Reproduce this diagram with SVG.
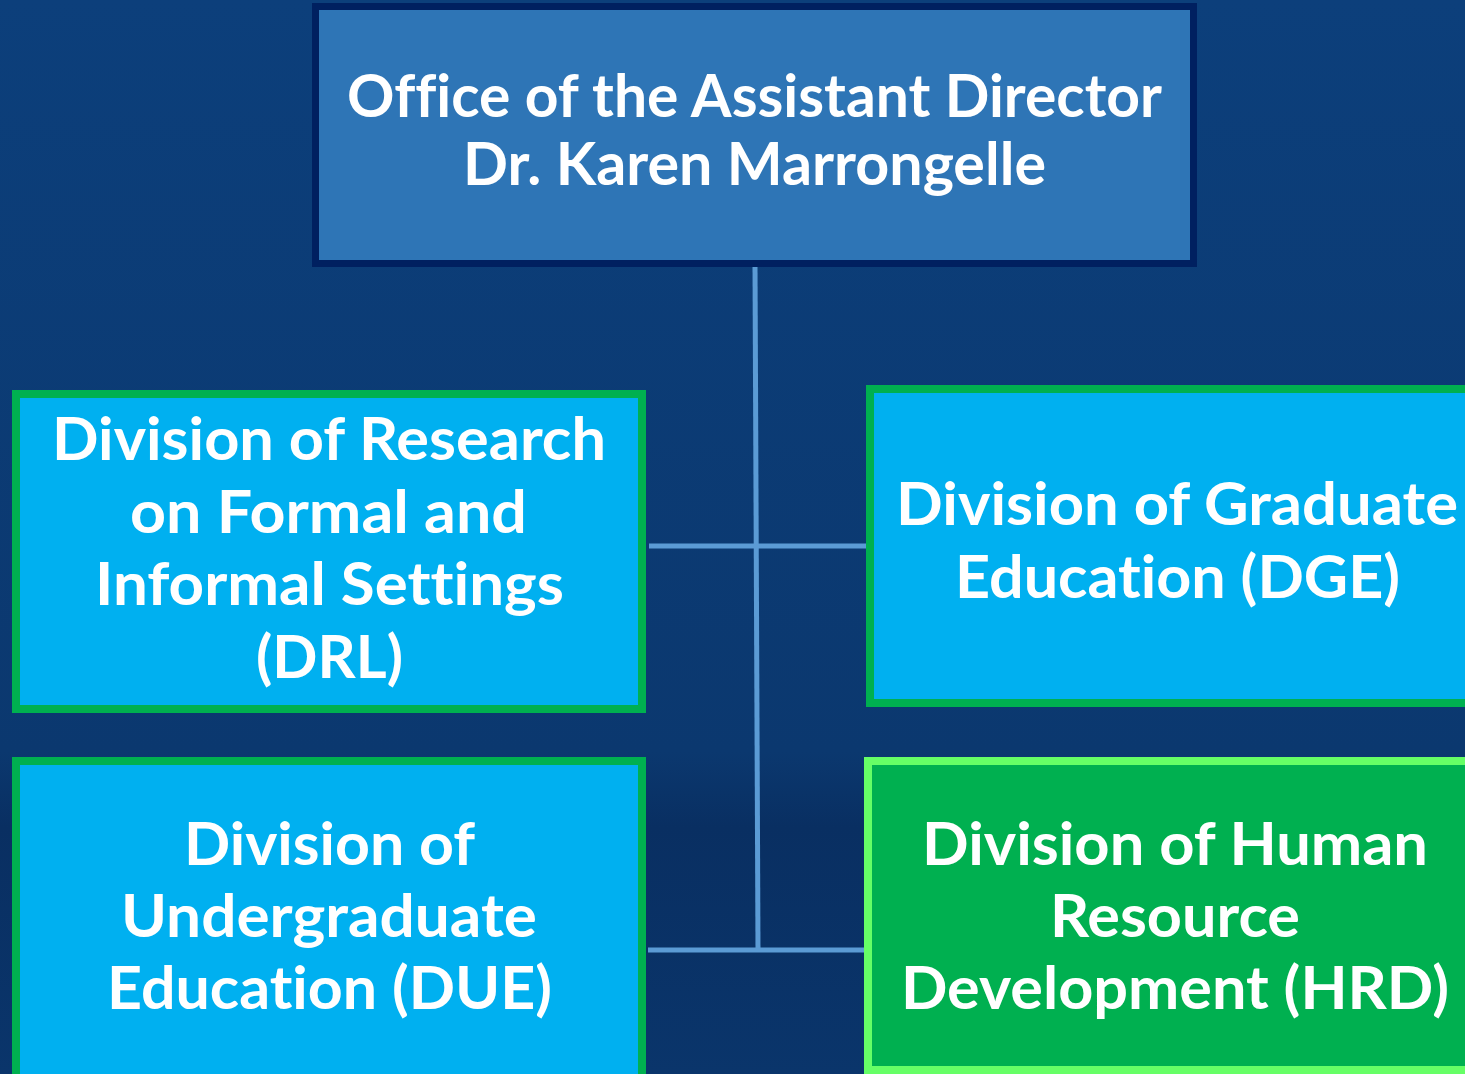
<svg xmlns="http://www.w3.org/2000/svg" width="1465" height="1074" viewBox="0 0 1465 1074">
<defs>
<linearGradient id="bg" x1="0" y1="0" x2="0" y2="1">
<stop offset="0" stop-color="#0c3f7b"/>
<stop offset="0.7" stop-color="#0b386f"/>
<stop offset="0.77" stop-color="#092f62"/>
<stop offset="1" stop-color="#0a356b"/>
</linearGradient>
<style>
.t{font-family:Lato,"Open Sans","Liberation Sans",sans-serif;font-weight:bold;font-size:59px;fill:#ffffff;text-anchor:middle;font-variant-ligatures:none}
.conn{stroke:#5b9bd5;stroke-width:5;fill:none}
.blue{fill:#00b0f0;stroke:#00b050;stroke-width:8}
</style>
</defs>
<rect x="0" y="0" width="1465" height="1074" fill="url(#bg)"/>
<g id="connectors">
<line class="conn" x1="755" y1="265" x2="758" y2="950"/>
<line class="conn" x1="649" y1="546" x2="866" y2="546"/>
<line class="conn" x1="648" y1="950" x2="864" y2="950"/>
</g>
<g id="office">
<rect x="315.5" y="6.5" width="878" height="257" fill="#2e75b6" stroke="#002060" stroke-width="7"/>
<text class="t" x="754.5" y="117" textLength="815" lengthAdjust="spacingAndGlyphs">Office of the Assistant Director</text>
<text class="t" x="754.5" y="185" textLength="583" lengthAdjust="spacingAndGlyphs">Dr. Karen Marrongelle</text>
</g>
<g id="drl">
<rect class="blue" x="16" y="394" width="626" height="315"/>
<text class="t" x="329" y="460" textLength="554" lengthAdjust="spacingAndGlyphs">Division of Research</text>
<text class="t" x="328.5" y="532.5" textLength="397" lengthAdjust="spacingAndGlyphs">on Formal and</text>
<text class="t" x="329.5" y="605" textLength="469" lengthAdjust="spacingAndGlyphs">Informal Settings</text>
<text class="t" x="329.5" y="677.5" textLength="147" lengthAdjust="spacingAndGlyphs">(DRL)</text>
</g>
<g id="dge">
<rect class="blue" x="870" y="389" width="620" height="314"/>
<text class="t" x="1177" y="525" textLength="562" lengthAdjust="spacingAndGlyphs">Division of Graduate</text>
<text class="t" x="1177.5" y="598" textLength="445" lengthAdjust="spacingAndGlyphs">Education (DGE)</text>
</g>
<g id="due">
<rect class="blue" x="16" y="761" width="626" height="320"/>
<text class="t" x="329.5" y="865" textLength="291" lengthAdjust="spacingAndGlyphs">Division of</text>
<text class="t" x="329" y="937" textLength="416" lengthAdjust="spacingAndGlyphs">Undergraduate</text>
<text class="t" x="329.5" y="1009" textLength="445" lengthAdjust="spacingAndGlyphs">Education (DUE)</text>
</g>
<g id="hrd">
<rect x="868" y="761" width="620" height="309" fill="#00b050" stroke="#66ff66" stroke-width="8"/>
<text class="t" x="1175" y="865" textLength="506" lengthAdjust="spacingAndGlyphs">Division of Human</text>
<text class="t" x="1175" y="937" textLength="250" lengthAdjust="spacingAndGlyphs">Resource</text>
<text class="t" x="1175" y="1009" textLength="548" lengthAdjust="spacingAndGlyphs">Development (HRD)</text>
</g>
</svg>
